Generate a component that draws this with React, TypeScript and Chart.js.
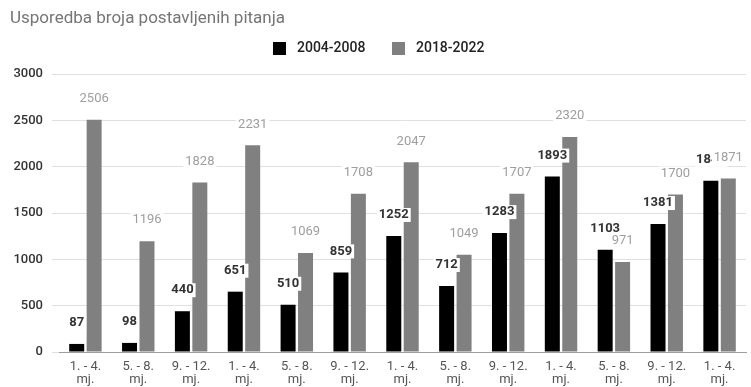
import React, { useEffect, useRef } from "react";
import { Chart, registerables } from "chart.js";

Chart.register(...registerables);

const TITLE = "Usporedba broja postavljenih pitanja";
const CATEGORIES: string[][] = [
  ["1. - 4.", "mj."], ["5. - 8.", "mj."], ["9. - 12.", "mj."],
  ["1. - 4.", "mj."], ["5. - 8.", "mj."], ["9. - 12.", "mj."],
  ["1. - 4.", "mj."], ["5. - 8.", "mj."], ["9. - 12.", "mj."],
  ["1. - 4.", "mj."], ["5. - 8.", "mj."], ["9. - 12.", "mj."],
  ["1. - 4.", "mj."],
];
const SERIES_NAMES = ["2004-2008", "2018-2022"];
const SERIES_A = [87, 98, 440, 651, 510, 859, 1252, 712, 1283, 1893, 1103, 1381, 1848];
const SERIES_B = [2506, 1196, 1828, 2231, 1069, 1708, 2047, 1049, 1707, 2320, 971, 1700, 1871];
const Y_TICKS = [0, 500, 1000, 1500, 2000, 2500, 3000];

const COLORS = ["#000000", "#808080"];
const LABEL_COLORS = ["#333333", "#9e9e9e"];
const FONT = "Roboto";

const headerPlugin = {
  id: "header",
  afterDraw(chart: any) {
    const ctx = chart.ctx;
    ctx.save();
    ctx.textBaseline = "middle";
    ctx.textAlign = "left";
    ctx.fillStyle = "#757575";
    ctx.font = `17px ${FONT}`;
    ctx.fillText(TITLE, 10, 19);
    // legend
    const items = [
      { x: 273, name: SERIES_NAMES[0], color: COLORS[0] },
      { x: 392, name: SERIES_NAMES[1], color: COLORS[1] },
    ];
    ctx.font = `500 14px ${FONT}`;
    items.forEach((it) => {
      ctx.fillStyle = it.color;
      ctx.fillRect(it.x, 42, 13, 13);
      ctx.fillStyle = "#222222";
      ctx.fillText(it.name, it.x + 24, 48.5);
    });
    ctx.restore();
  },
};

const labelPlugin = {
  id: "barLabels",
  afterDatasetsDraw(chart: any) {
    const ctx = chart.ctx;
    ctx.save();
    ctx.textAlign = "center";
    ctx.textBaseline = "middle";
    chart.data.datasets.forEach((ds: any, di: number) => {
      const meta = chart.getDatasetMeta(di);
      ctx.font = di === 0 ? `bold 13px ${FONT}` : `13px ${FONT}`;
      meta.data.forEach((bar: any, i: number) => {
        const text = String(ds.data[i]);
        const x = bar.x;
        const y = bar.y - 21;
        const w = ctx.measureText(text).width;
        ctx.fillStyle = "#ffffff";
        ctx.fillRect(x - w / 2 - 2, y - 7, w + 4, 14);
        ctx.fillStyle = LABEL_COLORS[di];
        ctx.fillText(text, x, y);
      });
    });
    ctx.restore();
  },
};

export default function App() {
  const ref = useRef<HTMLCanvasElement | null>(null);
  useEffect(() => {
    if (!ref.current) return;
    const chart = new Chart(ref.current, {
      type: "bar",
      data: {
        labels: CATEGORIES,
        datasets: [
          {
            label: SERIES_NAMES[0],
            data: SERIES_A,
            backgroundColor: COLORS[0],
            categoryPercentage: 0.66,
            barPercentage: 0.86,
          },
          {
            label: SERIES_NAMES[1],
            data: SERIES_B,
            backgroundColor: COLORS[1],
            categoryPercentage: 0.66,
            barPercentage: 0.86,
          },
        ],
      },
      options: {
        responsive: false,
        animation: false,
        devicePixelRatio: 1,
        layout: { padding: { top: 74, right: 5, left: 0, bottom: 0 } },
        plugins: {
          legend: { display: false },
          title: { display: false },
          tooltip: { enabled: false },
        },
        scales: {
          x: {
            grid: { display: false, drawTicks: false },
            border: { display: true, color: "#9e9e9e", width: 1 },
            ticks: {
              color: "#555555",
              font: { family: FONT, size: 13, lineHeight: 1.0 },
              padding: 8,
              maxRotation: 0,
              autoSkip: false,
            },
            afterFit: (s: any) => {
              s.height = 35;
            },
          },
          y: {
            min: 0,
            max: 3000,
            afterBuildTicks: (s: any) => {
              s.ticks = Y_TICKS.map((v) => ({ value: v }));
            },
            grid: {
              color: "#e0e0e0",
              tickColor: "#e0e0e0",
              tickLength: 7,
              drawTicks: true,
            },
            border: { display: false },
            ticks: {
              color: "#333333",
              font: { family: FONT, size: 13, weight: "500" },
              padding: 9,
              callback: (v: any) => String(v),
            },
            afterFit: (s: any) => {
              s.width = 59;
            },
          },
        },
      },
      plugins: [headerPlugin, labelPlugin],
    });
    return () => chart.destroy();
  }, []);
  return (
    <div style={{ position: "fixed", left: 0, top: 0, width: 751, height: 387, background: "#fff" }}>
      <canvas ref={ref} width={751} height={387} style={{ width: 751, height: 387 }} />
    </div>
  );
}
